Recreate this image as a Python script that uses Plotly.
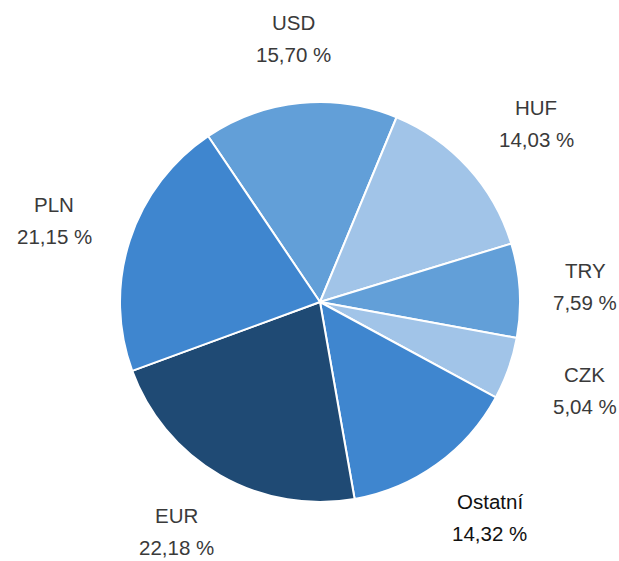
import math
import plotly.graph_objects as go

labels = ["USD", "HUF", "TRY", "CZK", "Ostatní", "EUR", "PLN"]
values = [15.70, 14.03, 7.59, 5.04, 14.32, 22.18, 21.15]
pct_text = ["15,70 %", "14,03 %", "7,59 %", "5,04 %", "14,32 %", "22,18 %", "21,15 %"]
colors = ["#629fd8", "#a1c4e8", "#629fd8", "#a1c4e8", "#3f86cf", "#1f4a74", "#3f86cf"]

W, H = 619, 561
cx, cy, R = 320, 302, 200
rotation = -34

fig = go.Figure(go.Pie(
    labels=labels, values=values, sort=False, direction="clockwise",
    rotation=rotation, textinfo="none", hoverinfo="label+percent",
    marker=dict(colors=colors, line=dict(color="white", width=2)),
    domain=dict(x=[(cx - R) / W, (cx + R) / W], y=[1 - (cy + R) / H, 1 - (cy - R) / H]),
    showlegend=False,
))

total = sum(values)
start = rotation
annotations = []
for lab, v, pt in zip(labels, values, pct_text):
    span = v / total * 360
    mid_deg = start + span / 2
    mid = math.radians(mid_deg)
    start += span
    # labels sit on a slightly squared-off ring outside the pie
    a = 1.31 * R + 0.15 * R * abs(math.sin(2 * mid))
    b = 1.325 * R
    px = cx + a * math.sin(mid)
    py = cy - b * math.cos(mid)
    bold = lab == "Ostatní"
    col = "#111111" if bold else "#3a3a3a"
    for txt, shift in ((lab, 16), (pt, -16)):
        annotations.append(dict(
            x=px / W, y=1 - py / H, xref="paper", yref="paper", text=txt,
            showarrow=False, yshift=shift, xanchor="center", yanchor="middle",
            font=dict(family="Liberation Sans, Arial, sans-serif", size=20.5, color=col),
        ))

fig.update_layout(
    width=W, height=H, margin=dict(l=0, r=0, t=0, b=0),
    paper_bgcolor="white", plot_bgcolor="white", annotations=annotations,
)
fig.write_html("out.html", config={"displayModeBar": False},
               post_script="document.body.style.margin='0';document.body.style.overflow='hidden';")
